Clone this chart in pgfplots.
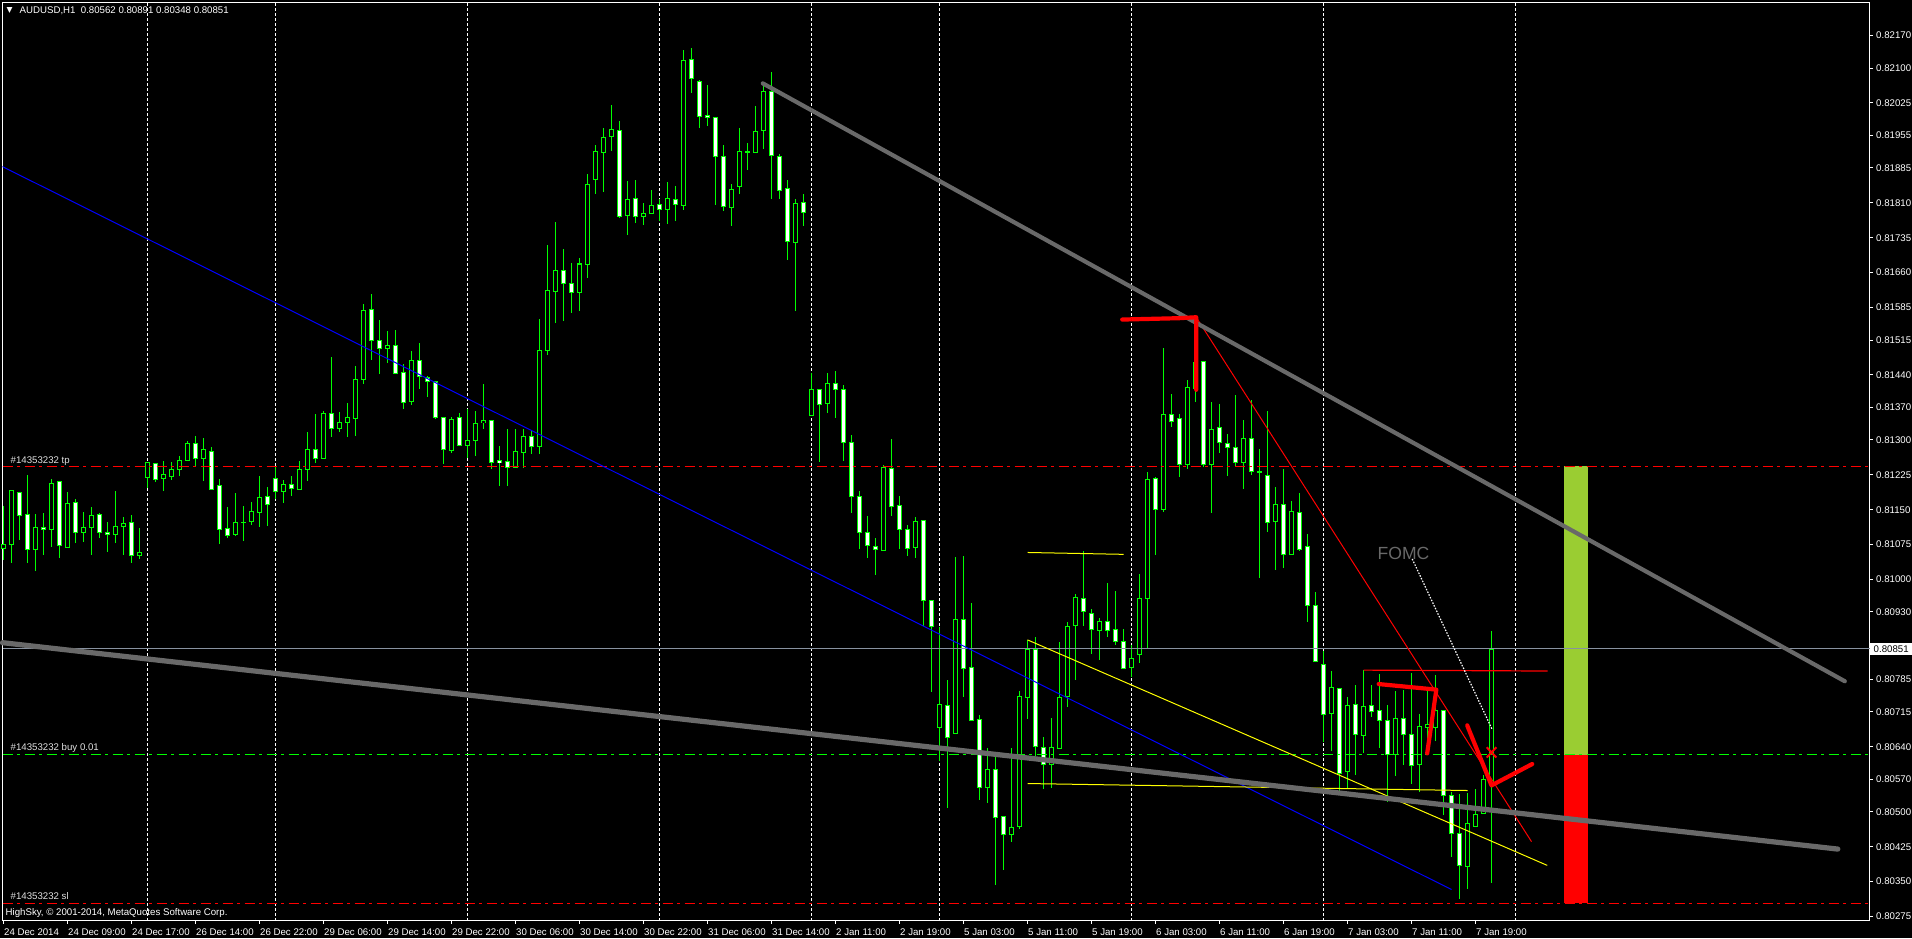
\documentclass[border=0pt]{standalone}
\usepackage{pgfplots}
\pgfplotsset{compat=1.18}
\usepackage{pgfplotstable}
\usepackage{fontspec}
\setmainfont{Liberation Sans}
\newfontfamily\djv{DejaVu Sans}
\definecolor{mtgreen}{RGB}{0,255,0}
\definecolor{mtred}{RGB}{255,0,0}
\definecolor{mtgray}{RGB}{105,105,105}
\definecolor{mtblue}{RGB}{0,0,255}
\definecolor{mtyellow}{RGB}{255,255,0}
\definecolor{mtprice}{RGB}{136,146,160}
\definecolor{mtyg}{RGB}{154,205,50}
\definecolor{mtlabel}{RGB}{225,225,225}
\newcommand\mt{\fontsize{2.75pt}{3.2pt}\selectfont}
\pgfplotsset{candle/.style={draw=none, no markers, forget plot, error bars/.cd, y dir=both, y explicit, error mark=none}}

\pgfplotstableread{
i o h l c
0 0.81068 0.81157 0.81041 0.81077
1 0.81076 0.81191 0.81037 0.81191
2 0.81189 0.81189 0.81085 0.81140
3 0.81141 0.81226 0.81035 0.81065
4 0.81065 0.81143 0.81021 0.81113
5 0.81113 0.81143 0.81053 0.81108
6 0.81108 0.81217 0.81072 0.81208
7 0.81210 0.81210 0.81048 0.81074
8 0.81069 0.81189 0.81069 0.81165
9 0.81165 0.81174 0.81080 0.81102
10 0.81102 0.81146 0.81080 0.81112
11 0.81112 0.81156 0.81054 0.81139
12 0.81141 0.81143 0.81091 0.81102
13 0.81102 0.81124 0.81061 0.81097
14 0.81097 0.81191 0.81078 0.81115
15 0.81114 0.81135 0.81054 0.81122
16 0.81124 0.81139 0.81035 0.81052
17 0.81052 0.81112 0.81046 0.81060
18 0.81219 0.81251 0.81197 0.81251
19 0.81251 0.81251 0.81211 0.81217
20 0.81217 0.81255 0.81190 0.81225
21 0.81222 0.81253 0.81214 0.81236
22 0.81238 0.81266 0.81222 0.81257
23 0.81257 0.81299 0.81257 0.81294
24 0.81294 0.81310 0.81246 0.81262
25 0.81260 0.81305 0.81211 0.81281
26 0.81277 0.81285 0.81193 0.81195
27 0.81204 0.81217 0.81076 0.81109
28 0.81111 0.81156 0.81089 0.81095
29 0.81098 0.81186 0.81093 0.81124
30 0.81124 0.81158 0.81084 0.81124
31 0.81126 0.81167 0.81118 0.81148
32 0.81146 0.81223 0.81114 0.81178
33 0.81178 0.81199 0.81117 0.81161
34 0.81217 0.81245 0.81175 0.81190
35 0.81190 0.81215 0.81165 0.81205
36 0.81205 0.81225 0.81180 0.81195
37 0.81195 0.81254 0.81191 0.81238
38 0.81238 0.81318 0.81213 0.81281
39 0.81281 0.81357 0.81252 0.81260
40 0.81260 0.81363 0.81260 0.81356
41 0.81356 0.81480 0.81308 0.81324
42 0.81325 0.81361 0.81317 0.81339
43 0.81339 0.81381 0.81308 0.81350
44 0.81348 0.81460 0.81310 0.81432
45 0.81432 0.81593 0.81422 0.81580
46 0.81582 0.81615 0.81472 0.81516
47 0.81516 0.81559 0.81444 0.81498
48 0.81498 0.81536 0.81467 0.81503
49 0.81503 0.81536 0.81444 0.81444
50 0.81447 0.81464 0.81367 0.81382
51 0.81384 0.81492 0.81376 0.81472
52 0.81472 0.81510 0.81411 0.81438
53 0.81434 0.81438 0.81394 0.81427
54 0.81427 0.81427 0.81346 0.81350
55 0.81348 0.81350 0.81248 0.81279
56 0.81277 0.81350 0.81272 0.81343
57 0.81350 0.81359 0.81290 0.81290
58 0.81290 0.81368 0.81263 0.81300
59 0.81300 0.81363 0.81268 0.81337
60 0.81337 0.81422 0.81325 0.81341
61 0.81341 0.81341 0.81238 0.81251
62 0.81256 0.81286 0.81202 0.81251
63 0.81254 0.81325 0.81202 0.81242
64 0.81242 0.81325 0.81241 0.81275
65 0.81275 0.81325 0.81241 0.81309
66 0.81309 0.81320 0.81270 0.81288
67 0.81288 0.81561 0.81270 0.81494
68 0.81494 0.81720 0.81482 0.81623
69 0.81621 0.81770 0.81553 0.81666
70 0.81666 0.81711 0.81556 0.81638
71 0.81638 0.81681 0.81573 0.81618
72 0.81618 0.81692 0.81578 0.81679
73 0.81679 0.81872 0.81648 0.81851
74 0.81859 0.81935 0.81831 0.81920
75 0.81920 0.81972 0.81833 0.81952
76 0.81952 0.82022 0.81923 0.81967
77 0.81967 0.81987 0.81779 0.81781
78 0.81784 0.81856 0.81740 0.81817
79 0.81819 0.81860 0.81768 0.81781
80 0.81781 0.81810 0.81764 0.81789
81 0.81788 0.81838 0.81787 0.81806
82 0.81806 0.81819 0.81771 0.81796
83 0.81796 0.81856 0.81766 0.81819
84 0.81817 0.81847 0.81771 0.81806
85 0.81806 0.82138 0.81794 0.82118
86 0.82118 0.82144 0.82048 0.82079
87 0.82073 0.82075 0.81971 0.81997
88 0.81999 0.82065 0.81977 0.81995
89 0.81995 0.81995 0.81807 0.81911
90 0.81911 0.81935 0.81794 0.81802
91 0.81802 0.81851 0.81760 0.81840
92 0.81847 0.81972 0.81831 0.81922
93 0.81921 0.81941 0.81882 0.81921
94 0.81920 0.82019 0.81918 0.81965
95 0.81965 0.82066 0.81926 0.82049
96 0.82049 0.82092 0.81819 0.81911
97 0.81911 0.81916 0.81819 0.81838
98 0.81840 0.81860 0.81687 0.81726
99 0.81726 0.81819 0.81578 0.81810
100 0.81810 0.81830 0.81760 0.81790
101 0.81353 0.81443 0.81353 0.81410
102 0.81410 0.81410 0.81254 0.81377
103 0.81379 0.81445 0.81359 0.81423
104 0.81422 0.81449 0.81348 0.81409
105 0.81410 0.81419 0.81256 0.81297
106 0.81296 0.81312 0.81144 0.81179
107 0.81179 0.81190 0.81067 0.81101
108 0.81102 0.81137 0.81047 0.81072
109 0.81073 0.81089 0.81009 0.81066
110 0.81062 0.81247 0.81062 0.81241
111 0.81240 0.81303 0.81138 0.81157
112 0.81158 0.81180 0.81065 0.81108
113 0.81109 0.81117 0.81052 0.81067
114 0.81069 0.81135 0.81046 0.81125
115 0.81128 0.81128 0.80901 0.80956
116 0.80956 0.80956 0.80759 0.80899
117 0.80682 0.80897 0.80609 0.80732
118 0.80729 0.80784 0.80509 0.80661
119 0.80671 0.81049 0.80668 0.80916
120 0.80914 0.81052 0.80748 0.80809
121 0.80811 0.80951 0.80697 0.80698
122 0.80699 0.80708 0.80526 0.80554
123 0.80552 0.80638 0.80520 0.80591
124 0.80593 0.80619 0.80344 0.80490
125 0.80490 0.80490 0.80377 0.80451
126 0.80451 0.80637 0.80435 0.80466
127 0.80469 0.80762 0.80465 0.80748
128 0.80748 0.80870 0.80700 0.80851
129 0.80851 0.80876 0.80620 0.80641
130 0.80640 0.80662 0.80550 0.80603
131 0.80603 0.80703 0.80552 0.80638
132 0.80638 0.80867 0.80638 0.80748
133 0.80749 0.80909 0.80727 0.80900
134 0.80901 0.80969 0.80785 0.80962
135 0.80960 0.81061 0.80899 0.80930
136 0.80928 0.80937 0.80840 0.80894
137 0.80892 0.80918 0.80828 0.80911
138 0.80909 0.80993 0.80877 0.80890
139 0.80894 0.80976 0.80859 0.80869
140 0.80868 0.80894 0.80808 0.80811
141 0.80811 0.80859 0.80790 0.80831
142 0.80838 0.81012 0.80822 0.80958
143 0.80960 0.81230 0.80849 0.81214
144 0.81217 0.81220 0.81052 0.81150
145 0.81151 0.81499 0.81147 0.81356
146 0.81356 0.81398 0.81328 0.81341
147 0.81346 0.81356 0.81222 0.81247
148 0.81247 0.81430 0.81239 0.81412
149 0.81412 0.81514 0.81383 0.81469
150 0.81469 0.81469 0.81244 0.81248
151 0.81248 0.81382 0.81143 0.81324
152 0.81326 0.81378 0.81274 0.81293
153 0.81293 0.81313 0.81222 0.81284
154 0.81285 0.81399 0.81244 0.81252
155 0.81252 0.81343 0.81194 0.81305
156 0.81305 0.81386 0.81226 0.81233
157 0.81233 0.81281 0.81005 0.81233
158 0.81225 0.81363 0.81102 0.81124
159 0.81126 0.81200 0.81022 0.81161
160 0.81161 0.81238 0.81024 0.81053
161 0.81055 0.81169 0.81054 0.81146
162 0.81146 0.81186 0.81062 0.81066
163 0.81072 0.81099 0.80910 0.80945
164 0.80945 0.80973 0.80822 0.80824
165 0.80818 0.80847 0.80650 0.80711
166 0.80711 0.80802 0.80630 0.80767
167 0.80767 0.80768 0.80547 0.80584
168 0.80588 0.80748 0.80552 0.80730
169 0.80730 0.80773 0.80580 0.80666
170 0.80666 0.80806 0.80627 0.80728
171 0.80730 0.80774 0.80704 0.80717
172 0.80719 0.80798 0.80639 0.80698
173 0.80696 0.80731 0.80521 0.80623
174 0.80625 0.80761 0.80578 0.80702
175 0.80702 0.80763 0.80601 0.80668
176 0.80668 0.80799 0.80560 0.80601
177 0.80603 0.80713 0.80544 0.80683
178 0.80682 0.80768 0.80654 0.80690
179 0.80684 0.80795 0.80654 0.80720
180 0.80720 0.80720 0.80494 0.80537
181 0.80537 0.80544 0.80405 0.80455
182 0.80455 0.80540 0.80314 0.80386
183 0.80382 0.80542 0.80336 0.80474
184 0.80470 0.80550 0.80469 0.80496
185 0.80498 0.80580 0.80496 0.80571
186 0.80562 0.80891 0.80348 0.80851
}\candles

\begin{document}
\begin{tikzpicture}
\fill[black] (0,0) rectangle (191.2mm,93.8mm);
\begin{axis}[
  at={(0.25mm,1.75mm)}, anchor=south west,
  scale only axis, width=186.7mm, height=91.8mm,
  xmin=-0.125, xmax=233.25, ymin=0.802664, ymax=0.822410,
  clip=false,
  scaled y ticks=false, scaled x ticks=false,
  axis line style={white, line width=0.1mm},
  tick align=outside, major tick length=0.3mm,
  every tick/.style={white, line width=0.1mm},
  xtick pos=left, ytick pos=right, yticklabel pos=right,
  xtick={0,8,...,184},
  xticklabels={24 Dec 2014, 24 Dec 09:00, 24 Dec 17:00, 26 Dec 14:00, 26 Dec 22:00, 29 Dec 06:00, 29 Dec 14:00, 29 Dec 22:00, 30 Dec 06:00, 30 Dec 14:00, 30 Dec 22:00, 31 Dec 06:00, 31 Dec 14:00, 2 Jan 11:00, 2 Jan 19:00, 5 Jan 03:00, 5 Jan 11:00, 5 Jan 19:00, 6 Jan 03:00, 6 Jan 11:00, 6 Jan 19:00, 7 Jan 03:00, 7 Jan 11:00, 7 Jan 19:00},
  xticklabel style={font=\mt, text=white, anchor=north west, inner sep=0pt, yshift=-0.5mm},
  ytick={0.82170,0.82100,0.82025,0.81955,0.81885,0.81810,0.81735,0.81660,0.81585,0.81515,0.81440,0.81370,0.81300,0.81225,0.81150,0.81075,0.81000,0.80930,0.80785,0.80715,0.80640,0.80570,0.80500,0.80425,0.80350,0.80275},
  yticklabels={0.82170,0.82100,0.82025,0.81955,0.81885,0.81810,0.81735,0.81660,0.81585,0.81515,0.81440,0.81370,0.81300,0.81225,0.81150,0.81075,0.81000,0.80930,0.80785,0.80715,0.80640,0.80570,0.80500,0.80425,0.80350,0.80275},
  yticklabel style={font=\mt, text=white, anchor=west, inner sep=0pt, xshift=0.3mm},
  extra x ticks={18,34,58,82,101,117,141,165,189},
  extra x tick labels={},
  extra x tick style={grid=major, major tick length=0pt},
  major grid style={white, line width=0.1mm, dash pattern=on 0.3mm off 0.2mm},
]
% wicks
\addplot[candle, error bar style={line width=0.1mm, draw=mtgreen, solid}]
  table[x=i, y expr={(\thisrow{h}+\thisrow{l})/2}, y error expr={(\thisrow{h}-\thisrow{l})/2}] {\candles};
% body outline
\addplot[candle, error bar style={line width=0.5mm, draw=mtgreen, solid}]
  table[x=i, y expr={(\thisrow{o}+\thisrow{c})/2}, y error expr={abs(\thisrow{o}-\thisrow{c})/2+0.0000108}] {\candles};
% body fill black
\addplot[candle, error bar style={line width=0.3mm, draw=black, solid}]
  table[x=i, y expr={(\thisrow{o}+\thisrow{c})/2}, y error expr={max(abs(\thisrow{o}-\thisrow{c})/2-0.0000108,0)}] {\candles};
% body fill white (bearish)
\addplot[candle, error bar style={line width=0.3mm, draw=white, solid}]
  table[x=i, y expr={(\thisrow{o}+\thisrow{c})/2}, y error expr={ifthenelse(\thisrow{o}>\thisrow{c}, max(abs(\thisrow{o}-\thisrow{c})/2-0.0000108,0), 0)}] {\candles};

% tp / sl boxes
\addplot[draw=none, fill=mtyg, forget plot] coordinates {(195,0.80623) (195,0.81243) (198,0.81243) (198,0.80623)} -- cycle;
\addplot[draw=none, fill=mtred, forget plot] coordinates {(195,0.80304) (195,0.80623) (198,0.80623) (198,0.80304)} -- cycle;

% order lines
\addplot[mtred, line width=0.1mm, dash pattern=on 1.0mm off 0.45mm on 0.3mm off 0.45mm] coordinates {(-0.125,0.81243) (233.25,0.81243)};
\addplot[mtgreen, line width=0.1mm, dash pattern=on 1.0mm off 0.45mm on 0.3mm off 0.45mm] coordinates {(-0.125,0.80623) (233.25,0.80623)};
\addplot[mtred, line width=0.1mm, dash pattern=on 1.0mm off 0.45mm on 0.3mm off 0.45mm] coordinates {(-0.125,0.80304) (233.25,0.80304)};
% current price line
\addplot[mtprice, line width=0.1mm] coordinates {(-0.125,0.80851) (233.25,0.80851)};

% blue channel line
\addplot[mtblue, line width=0.1mm] coordinates {(-0.125,0.81888) (181,0.80333)};
% yellow lines
\addplot[mtyellow, line width=0.1mm] coordinates {(128,0.81058) (140,0.81054)};
\addplot[mtyellow, line width=0.1mm] coordinates {(128,0.80870) (192.96,0.80385)};
\addplot[mtyellow, line width=0.1mm] coordinates {(128,0.80561) (183,0.80546)};
% thin red lines
\addplot[mtred, line width=0.1mm] coordinates {(149.125,0.81563) (191,0.80436)};
\addplot[mtred, line width=0.12mm] coordinates {(170,0.80805) (193,0.80803)};
% gray trend lines
\addplot[mtgray, line width=0.42mm, line cap=round] coordinates {(94.91,0.82067) (230.16,0.80781)};
\addplot[mtgray, line width=0.52mm, line cap=round] coordinates {(-0.125,0.80864) (229.29,0.80420)};
% thick red hand strokes
\addplot[mtred, line width=0.42mm, line cap=round, line join=round] coordinates {(139.84,0.81559) (147.0,0.81562) (149.09,0.81564) (149.09,0.81408)};
\addplot[mtred, line width=0.42mm, line cap=round, line join=round] coordinates {(171.9,0.80775) (179.1,0.80763) (177.96,0.80626)};
\addplot[mtred, line width=0.42mm, line cap=round, line join=round] coordinates {(182.96,0.80686) (186,0.80557) (191.09,0.80603)};
% red x
\addplot[mtred, line width=0.2mm] coordinates {(185.4,0.80639) (186.6,0.80617)};
\addplot[mtred, line width=0.2mm] coordinates {(185.4,0.80617) (186.6,0.80639)};
% white dotted pointer
\addplot[white, line width=0.12mm, dash pattern=on 0.15mm off 0.15mm] coordinates {(176.09,0.81044) (186.09,0.80677)};

% FOMC text
\node[text=mtgray, font=\fontsize{5pt}{6pt}\selectfont, inner sep=0pt] at (axis cs:175,0.81056) {FOMC};
% current price box
\node[fill=white, text=black, font=\mt, anchor=west, inner xsep=0.35mm, inner ysep=0.25mm, minimum width=4.1mm] at (axis cs:233.25,0.80851) {0.80851};
\end{axis}
% texts
\node[text=white, inner sep=0pt, font=\djv\fontsize{2.2pt}{2.5pt}\selectfont] at (0.95mm,92.75mm) {▼};
\node[text=white, anchor=west, inner sep=0pt, font=\mt] at (1.9mm,92.75mm) {AUDUSD,H1\ \ 0.80562 0.80891 0.80348 0.80851};
\node[text=mtlabel, anchor=west, inner sep=0pt, font=\mt] at (1.0mm,47.72mm) {\#14353232 tp};
\node[text=mtlabel, anchor=west, inner sep=0pt, font=\mt] at (1.0mm,18.97mm) {\#14353232 buy 0.01};
\node[text=mtlabel, anchor=west, inner sep=0pt, font=\mt] at (1.0mm,4.2mm) {\#14353232 sl};
\node[text=white, anchor=west, inner sep=0pt, font=\mt] at (0.5mm,2.5mm) {HighSky, © 2001-2014, MetaQuotes Software Corp.};
\pgfresetboundingbox
\path[use as bounding box] (0,0) rectangle (191.2mm,93.8mm);
\end{tikzpicture}
\end{document}
